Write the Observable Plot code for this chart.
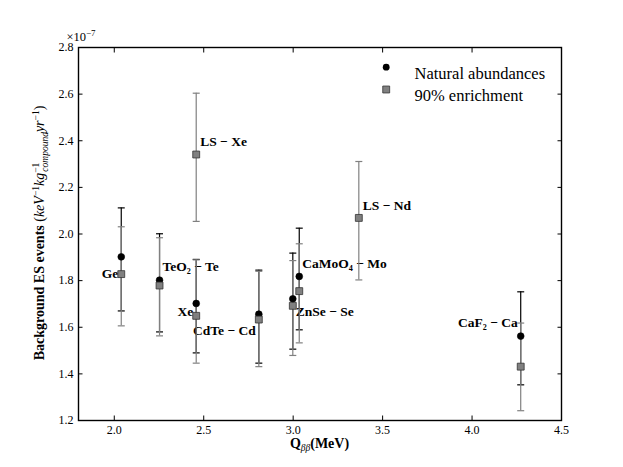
<!DOCTYPE html>
<html><head><meta charset="utf-8">
<script src="https://cdn.jsdelivr.net/npm/d3@7"></script>
<script src="https://cdn.jsdelivr.net/npm/@observablehq/plot@0.6"></script>
<style>
body{margin:0;background:#fff}
svg, svg text, svg tspan {font-family: "Liberation Serif", "DejaVu Serif", serif !important;}
</style>
</head><body><div id="chart"></div>
<script>
// ---- data ----
const natNames = ["Ge", "TeO2", "Xe", "CdTe", "ZnSe", "CaMoO4", "CaF2"];
const natQ     = [2.039, 2.253, 2.458, 2.808, 2.998, 3.034, 4.272];
const natVal   = [1.902, 1.802, 1.702, 1.656, 1.722, 1.818, 1.562];
const natLo    = [1.670, 1.580, 1.490, 1.446, 1.506, 1.589, 1.353];
const natHi    = [2.112, 2.001, 1.891, 1.845, 1.918, 2.025, 1.752];

const enrNames = ["Ge", "TeO2", "Xe", "CdTe", "ZnSe", "CaMoO4", "LS-Xe", "LS-Nd", "CaF2"];
const enrQ     = [2.039, 2.253, 2.458, 2.808, 2.998, 3.034, 2.458, 3.367, 4.272];
const enrVal   = [1.828, 1.779, 1.649, 1.633, 1.692, 1.755, 2.341, 2.069, 1.431];
const enrLo    = [1.606, 1.563, 1.446, 1.431, 1.479, 1.533, 2.054, 1.803, 1.242];
const enrHi    = [2.031, 1.984, 1.889, 1.840, 1.886, 1.958, 2.604, 2.311, 1.618];

const labelText   = ["Ge", "TeO₂ − Te", "Xe", "CdTe − Cd", "ZnSe − Se", "CaMoO₄ − Mo", "LS − Xe", "LS − Nd", "CaF₂ − Ca"];
const labelSeries = ["enr", "nat", "enr", "enr", "enr", "nat", "enr", "enr", "nat"];
const labelKey    = ["Ge", "TeO2", "Xe", "CdTe", "ZnSe", "CaMoO4", "LS-Xe", "LS-Nd", "CaF2"];

const xTicks = [2.0, 2.5, 3.0, 3.5, 4.0, 4.5];
const yTicks = [1.2, 1.4, 1.6, 1.8, 2.0, 2.2, 2.4, 2.6, 2.8];
const legendLabels = ["Natural abundances", "90% enrichment"];

// ---- tables ----
const nat = natNames.map((n, i) => ({name: n, q: natQ[i], v: natVal[i], lo: natLo[i], hi: natHi[i]}));
const enr = enrNames.map((n, i) => ({name: n, q: enrQ[i], v: enrVal[i], lo: enrLo[i], hi: enrHi[i]}));

// label placement (styling, offsets in px relative to the point)
const labelLayout = {
  "Ge":     {anchor: "end",   dx: -3, dy: 0},
  "TeO2":   {anchor: "start", dx: 3,  dy: -13},
  "Xe":     {anchor: "end",   dx: -3, dy: -4},
  "CdTe":   {anchor: "end",   dx: -3, dy: 11},
  "ZnSe":   {anchor: "start", dx: 3,  dy: 6},
  "CaMoO4": {anchor: "start", dx: 3,  dy: -13},
  "LS-Xe":  {anchor: "start", dx: 4,  dy: -13},
  "LS-Nd":  {anchor: "start", dx: 4,  dy: -12},
  "CaF2":   {anchor: "end",   dx: -3, dy: -13}
};

const GRAY = "#808080";
const FONT = "Liberation Serif, DejaVu Serif, serif";
const cap = {draw(ctx) { ctx.moveTo(-3.5, 0); ctx.lineTo(3.5, 0); }};

const labelMarks = labelText.map((t, i) => {
  const src = labelSeries[i] === "nat" ? nat : enr;
  const d = src.find(r => r.name === labelKey[i]);
  const L = labelLayout[labelKey[i]];
  return Plot.text([d], {x: "q", y: "v", text: () => t, textAnchor: L.anchor, dx: L.dx, dy: L.dy,
    fontSize: 13.5, fontWeight: "bold", fill: "black", fontFamily: FONT});
});

const TS = 4.5;
const plot = Plot.plot({
  width: 623, height: 467,
  marginLeft: 78, marginRight: 62, marginTop: 47, marginBottom: 47,
  style: {fontFamily: FONT, background: "white", color: "black"},
  x: {domain: [1.8, 4.5]},
  y: {domain: [1.2, 2.8]},
  marks: [
    // axis labels
    Plot.axisX({ticks: xTicks, tickSize: 0, tickPadding: 5, tickFormat: ".1f", label: null, fontSize: 12, fontFamily: FONT}),
    Plot.axisY({ticks: yTicks, tickSize: 0, tickPadding: 5, tickFormat: ".1f", label: null, fontSize: 12, fontFamily: FONT}),
    // inward ticks on all four sides
    Plot.axisX({ticks: xTicks, anchor: "bottom", tickSize: TS, dy: -TS, tickFormat: () => "", label: null}),
    Plot.axisX({ticks: xTicks, anchor: "top", tickSize: TS, dy: TS, tickFormat: () => "", label: null}),
    Plot.axisY({ticks: yTicks, anchor: "left", tickSize: TS, dx: TS, tickFormat: () => "", label: null}),
    Plot.axisY({ticks: yTicks, anchor: "right", tickSize: TS, dx: -TS, tickFormat: () => "", label: null}),
    ...labelMarks,
    // error bars
    Plot.ruleX(nat, {x: "q", y1: "lo", y2: "hi", stroke: "black", strokeWidth: 1.2}),
    Plot.dot(nat, {x: "q", y: "lo", symbol: cap, stroke: "black", fill: "none", strokeWidth: 1.2}),
    Plot.dot(nat, {x: "q", y: "hi", symbol: cap, stroke: "black", fill: "none", strokeWidth: 1.2}),
    Plot.ruleX(enr, {x: "q", y1: "lo", y2: "hi", stroke: GRAY, strokeWidth: 1.2}),
    Plot.dot(enr, {x: "q", y: "lo", symbol: cap, stroke: GRAY, fill: "none", strokeWidth: 1.2}),
    Plot.dot(enr, {x: "q", y: "hi", symbol: cap, stroke: GRAY, fill: "none", strokeWidth: 1.2}),
    // points
    Plot.dot(nat, {x: "q", y: "v", r: 3.4, fill: "black", stroke: "black", strokeWidth: 0.6}),
    Plot.dot(enr, {x: "q", y: "v", symbol: "square", r: 3.9, fill: GRAY, stroke: "#333", strokeWidth: 0.8}),
    // legend
    Plot.dot([legendLabels[0]], {x: null, y: null, frameAnchor: "top-left", dx: 307.7, dy: 19.7, r: 3.4, fill: "black"}),
    Plot.dot([legendLabels[1]], {x: null, y: null, frameAnchor: "top-left", dx: 307.7, dy: 42, symbol: "square", r: 3.9, fill: GRAY, stroke: "#333", strokeWidth: 0.8}),
    Plot.text([legendLabels[0]], {frameAnchor: "top-left", dx: 336, dy: 19.7, text: d => d, textAnchor: "start", fontSize: 16.5, fill: "black", fontFamily: FONT}),
    Plot.text([legendLabels[1]], {frameAnchor: "top-left", dx: 336, dy: 42, text: d => d, textAnchor: "start", fontSize: 16.5, fill: "black", fontFamily: FONT}),
    Plot.frame({stroke: "black", strokeWidth: 1.4})
  ]
});

document.getElementById("chart").appendChild(plot);

// ---- rich-text axis titles ----
const svg = d3.select(plot);
// y title
const yt = svg.append("text")
  .attr("transform", "translate(44,233) rotate(-90)")
  .attr("text-anchor", "middle").attr("font-family", FONT).attr("font-size", 14).attr("fill", "black");
yt.append("tspan").attr("font-weight", "bold").text("Background ES events ");
yt.append("tspan").text("(");
yt.append("tspan").attr("font-style", "italic").text("keV");
yt.append("tspan").attr("dy", -5).attr("font-size", 9.5).text("−1");
yt.append("tspan").attr("dy", 5).attr("font-style", "italic").text("kg");
yt.append("tspan").attr("dy", -5).attr("font-size", 9.5).text("−1");
yt.append("tspan").attr("dx", -9).attr("dy", 9).attr("font-size", 9.5).attr("font-style", "italic").text("compound");
yt.append("tspan").attr("dy", -4).attr("font-style", "italic").text("yr");
yt.append("tspan").attr("dy", -5).attr("font-size", 9.5).text("−1");
yt.append("tspan").attr("dy", 5).text(")");

// x title
const xt = svg.append("text")
  .attr("x", 319.5).attr("y", 448)
  .attr("text-anchor", "middle").attr("font-family", FONT).attr("font-size", 14).attr("fill", "black");
xt.append("tspan").attr("font-weight", "bold").text("Q");
xt.append("tspan").attr("dy", 3).attr("font-size", 9.5).attr("font-style", "italic").text("ββ");
xt.append("tspan").attr("dy", -3).attr("font-weight", "bold").text("(MeV)");

// offset text
const ot = svg.append("text")
  .attr("x", 81).attr("y", 41)
  .attr("font-family", FONT).attr("font-size", 12.5).attr("fill", "black");
ot.append("tspan").text("×10");
ot.append("tspan").attr("dy", -5).attr("font-size", 9).text("−7");
</script>
</body></html>
